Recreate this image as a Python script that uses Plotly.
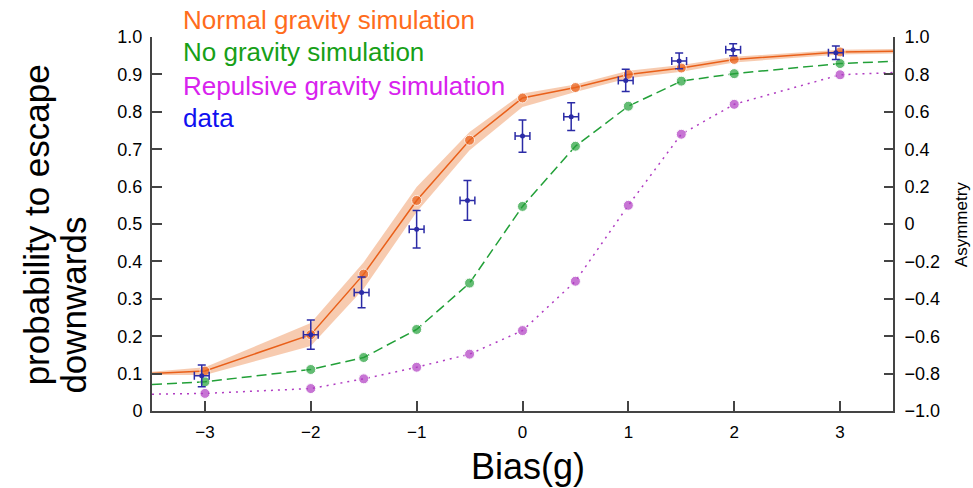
import plotly.graph_objects as go

# ---- data ----
sim_x = [-3.5, -3, -2, -1.5, -1, -0.5, 0, 0.5, 1, 1.5, 2, 3, 3.5]
normal_g = [0.100, 0.107, 0.204, 0.366, 0.563, 0.724, 0.837, 0.865, 0.900, 0.917, 0.940, 0.960, 0.962]
normal_lo = [0.096, 0.096, 0.174, 0.327, 0.532, 0.697, 0.813, 0.853, 0.890, 0.907, 0.932, 0.953, 0.956]
normal_hi = [0.105, 0.117, 0.235, 0.398, 0.599, 0.746, 0.849, 0.873, 0.910, 0.925, 0.947, 0.966, 0.968]
no_g = [0.071, 0.078, 0.111, 0.143, 0.218, 0.342, 0.547, 0.708, 0.815, 0.882, 0.902, 0.929, 0.935]
repulsive_g = [0.045, 0.047, 0.060, 0.086, 0.117, 0.152, 0.215, 0.347, 0.550, 0.740, 0.820, 0.899, 0.905]

data_x = [-3.03, -2.0, -1.52, -1.0, -0.52, 0.0, 0.46, 0.975, 1.48, 1.99, 2.96]
data_y = [0.094, 0.204, 0.317, 0.486, 0.563, 0.735, 0.787, 0.884, 0.936, 0.966, 0.958]
data_yerr = [0.029, 0.039, 0.041, 0.050, 0.053, 0.043, 0.037, 0.030, 0.021, 0.016, 0.018]
data_xerr = [0.07] * len(data_x)

x_ticks = [-3, -2, -1, 0, 1, 2, 3]
x_ticktext = ["\u22123", "\u22122", "\u22121", "0", "1", "2", "3"]
y_ticks = [0, 0.1, 0.2, 0.3, 0.4, 0.5, 0.6, 0.7, 0.8, 0.9, 1.0]
y_ticktext = ["0", "0.1", "0.2", "0.3", "0.4", "0.5", "0.6", "0.7", "0.8", "0.9", "1.0"]
y2_ticks = [-1.0, -0.8, -0.6, -0.4, -0.2, 0, 0.2, 0.4, 0.6, 0.8, 1.0]
y2_ticktext = ["\u22121.0", "\u22120.8", "\u22120.6", "\u22120.4", "\u22120.2", "0", "0.2", "0.4", "0.6", "0.8", "1.0"]

legend_labels = ["Normal gravity simulation", "No gravity simulation", "Repulsive gravity simulation", "data"]

# ---- styles ----
FONT = "Liberation Sans, Arial, Helvetica, sans-serif"
ORANGE = "#e9601a"
GREEN = "#22a038"
PURPLE = "#b03cc2"
BLUE = "#2b2ba6"
BAND = "rgba(238,140,80,0.45)"
AXIS = "#444444"
legend_colors = ["#ff6c1c", "#17a017", "#d822ee", "#1010f0"]

edge_sizes = [0] + [10] * (len(sim_x) - 2) + [0]

fig = go.Figure()

fig.add_trace(go.Scatter(x=sim_x, y=normal_lo, mode="lines", line=dict(width=0),
                         hoverinfo="skip", showlegend=False))
fig.add_trace(go.Scatter(x=sim_x, y=normal_hi, mode="lines", line=dict(width=0),
                         fill="tonexty", fillcolor=BAND, hoverinfo="skip", showlegend=False))

fig.add_trace(go.Scatter(x=sim_x, y=no_g, mode="lines+markers",
                         line=dict(color=GREEN, width=1.5, dash="10px,5px"),
                         marker=dict(color=GREEN, size=edge_sizes), showlegend=False))
fig.add_trace(go.Scatter(x=sim_x, y=repulsive_g, mode="lines+markers",
                         line=dict(color=PURPLE, width=1.5, dash="2px,5px"),
                         marker=dict(color=PURPLE, size=edge_sizes), showlegend=False))
fig.add_trace(go.Scatter(x=sim_x, y=normal_g, mode="lines+markers",
                         line=dict(color=ORANGE, width=1.5),
                         marker=dict(color=ORANGE, size=edge_sizes), showlegend=False))

fig.add_trace(go.Scatter(x=data_x, y=data_y, mode="markers",
                         marker=dict(color=BLUE, size=5),
                         error_y=dict(type="data", array=data_yerr, color=BLUE, thickness=1.5, width=4),
                         error_x=dict(type="data", array=data_xerr, color=BLUE, thickness=1.5, width=4),
                         showlegend=False))

# invisible trace to activate right axis
fig.add_trace(go.Scatter(x=[0], y=[0], yaxis="y2", mode="markers",
                         marker=dict(opacity=0), hoverinfo="skip", showlegend=False))

annotations = []
leg_y = [1.045, 0.959, 0.868, 0.783]
for lab, col, yy in zip(legend_labels, legend_colors, leg_y):
    annotations.append(dict(text=lab, x=0.039, y=yy, xref="paper", yref="paper",
                            xanchor="left", yanchor="middle", showarrow=False,
                            font=dict(family=FONT, size=26, color=col)))

annotations.append(dict(text="probability to escape", x=-0.1565, y=0.4965, xref="paper", yref="paper",
                        textangle=-90, showarrow=False, xanchor="center", yanchor="middle",
                        font=dict(family=FONT, size=35, color="black")))
annotations.append(dict(text="downwards", x=-0.1065, y=0.282, xref="paper", yref="paper",
                        textangle=-90, showarrow=False, xanchor="center", yanchor="middle",
                        font=dict(family=FONT, size=35, color="black")))
annotations.append(dict(text="Bias(g)", x=0.507, y=-0.148, xref="paper", yref="paper",
                        showarrow=False, xanchor="center", yanchor="middle",
                        font=dict(family=FONT, size=36, color="black")))
annotations.append(dict(text="Asymmetry", x=1.092, y=0.5, xref="paper", yref="paper",
                        textangle=-90, showarrow=False, xanchor="center", yanchor="middle",
                        font=dict(family=FONT, size=17, color="black")))

fig.update_layout(
    width=973, height=488,
    margin=dict(l=152, r=80, t=37, b=77),
    paper_bgcolor="white", plot_bgcolor="white",
    font=dict(family=FONT, size=18, color="black"),
    showlegend=False,
    annotations=annotations,
    xaxis=dict(range=[-3.5, 3.5], tickvals=x_ticks, ticktext=x_ticktext,
               ticks="inside", ticklen=10, tickwidth=1.5, tickcolor=AXIS,
               showline=True, linecolor=AXIS, linewidth=2, showgrid=False, zeroline=False,
               ticklabelstandoff=5, tickfont=dict(size=17)),
    yaxis=dict(range=[0, 1.0], tickvals=y_ticks, ticktext=y_ticktext,
               ticks="inside", ticklen=10, tickwidth=1.5, tickcolor=AXIS,
               showline=True, linecolor=AXIS, linewidth=2, showgrid=False, zeroline=False,
               ticklabelstandoff=4, tickfont=dict(size=18)),
    yaxis2=dict(range=[-1.0, 1.0], tickvals=y2_ticks, ticktext=y2_ticktext,
                overlaying="y", side="right", anchor="x",
                ticks="inside", ticklen=9, tickwidth=1.5, tickcolor=AXIS,
                showline=True, linecolor=AXIS, linewidth=2, showgrid=False, zeroline=False,
                ticklabelstandoff=6, tickfont=dict(size=18)),
)

fig.write_html("out.html")
